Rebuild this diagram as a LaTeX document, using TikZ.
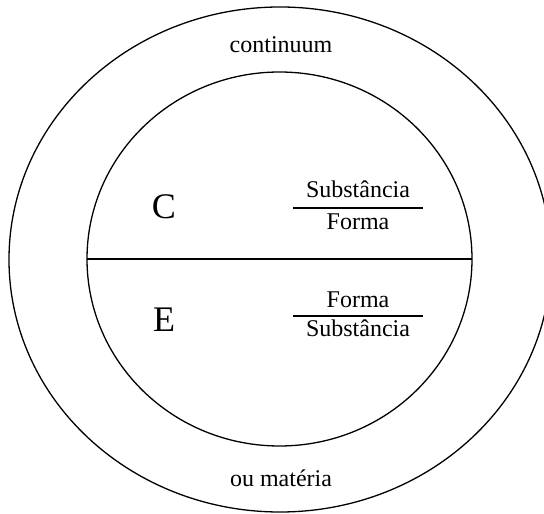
\documentclass[tikz,border=0pt]{standalone}
\usepackage{fontspec}
\setmainfont{Liberation Serif}
\usetikzlibrary{
  positioning,
  shapes.geometric,
}
\tikzset{
  ring/.style={
    ellipse, draw, line width=1.3pt, inner sep=0pt, outer sep=0pt,
  },
  word/.style={
    anchor=base, inner sep=0pt, font=\fontsize{24}{28}\selectfont,
  },
  letter/.style={
    anchor=base, inner sep=0pt, font=\fontsize{36}{40}\selectfont,
  },
  bar/.style={line width=1.3pt},
}

\begin{document}
\begin{tikzpicture}[x=1pt,y=1pt]
\useasboundingbox (0,0) rectangle (544,514);

\node[ring, minimum width=542, minimum height=505] (outer) at (280,254.5) {};
\node[ring, minimum width=385, minimum height=374] (inner) at (279.5,255) {};
\draw[bar] (inner.west) -- (inner.east);

\node[word] (cont) at (281,461) {continuum};
\node[word] (mat) at (281,27) {ou matéria};

\node[letter] (C) at (164,295) {C};
\node[letter] (E) at (164,182) {E};

% upper half
\node[word] (cSub) at (358,316) {Substância};
\node[word] (cForm) at (358,284) {Forma};
\coordinate (cBarL) at (293,306);
\coordinate (cBarR) at (423,306);
\draw[bar] (cBarL) -- (cBarR);

% lower half
\node[word] (eForm) at (358,206) {Forma};
\node[word] (eSub) at (358,177) {Substância};
\coordinate (eBarL) at (293,198);
\coordinate (eBarR) at (423,198);
\draw[bar] (eBarL) -- (eBarR);

\end{tikzpicture}
\end{document}
